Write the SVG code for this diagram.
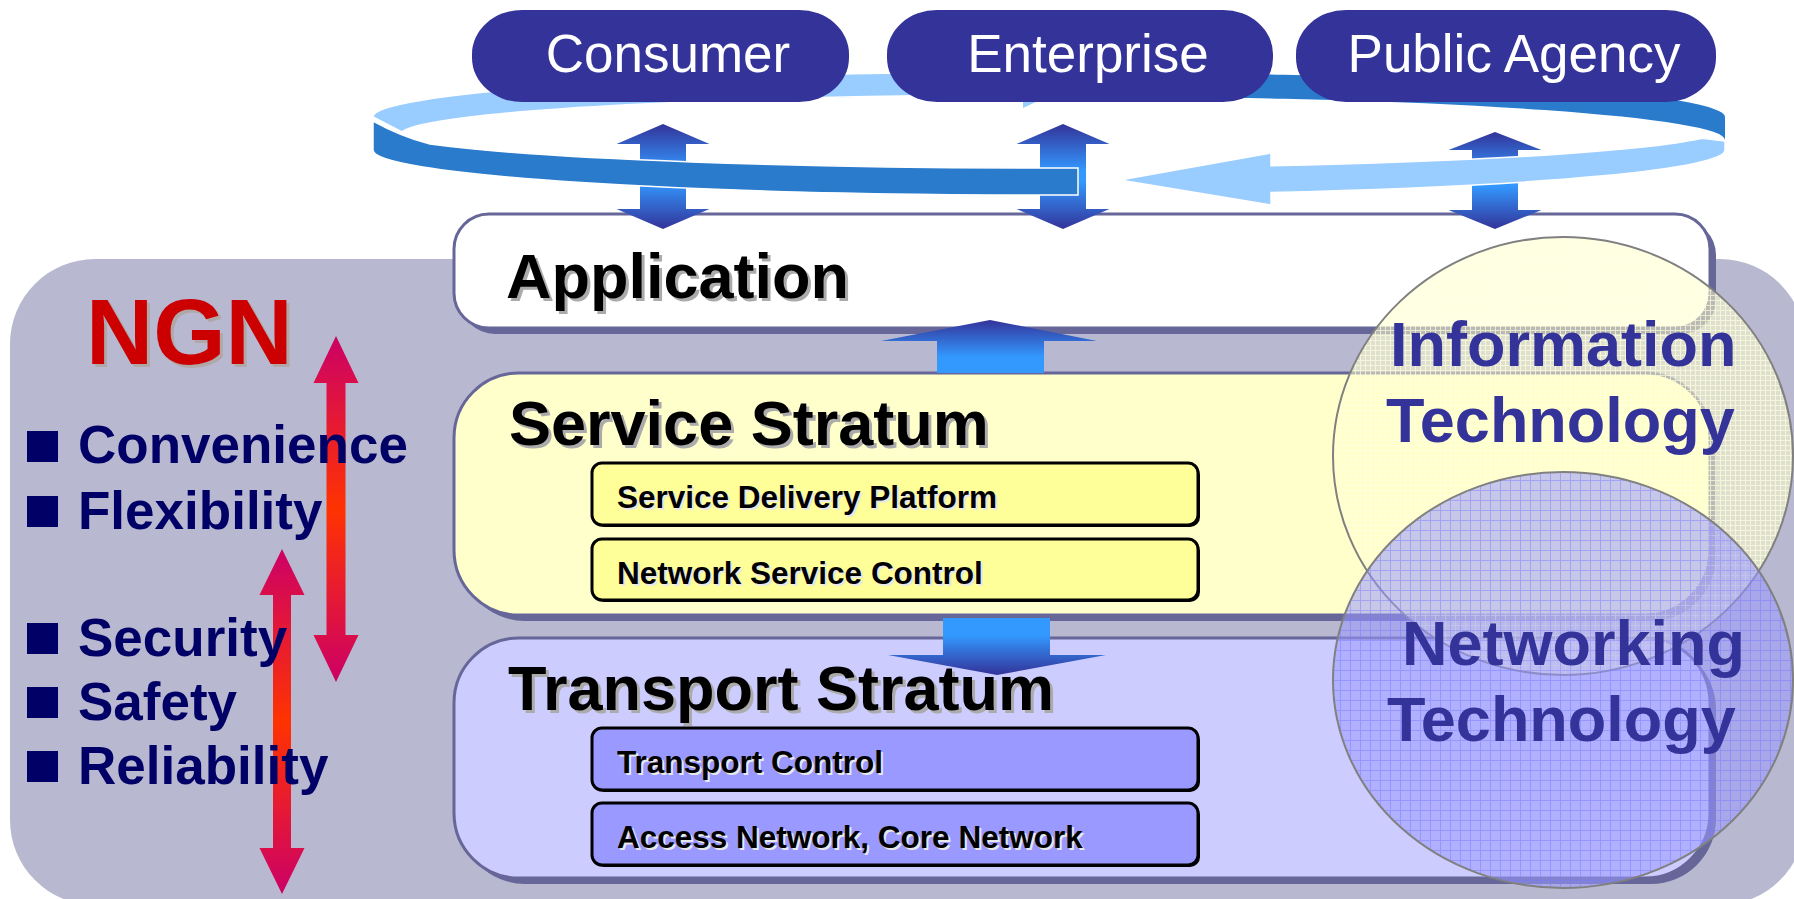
<svg xmlns="http://www.w3.org/2000/svg" width="1794" height="899" viewBox="0 0 1794 899">
<defs>
<style>
.box{stroke:#666699;stroke-width:3}
.shadow{fill:#666699}
.h{font-family:"Liberation Sans",Arial,sans-serif;font-weight:bold;font-size:63px;fill:#000}
.hs{fill:#ABABAB}
.pt{font-family:"Liberation Sans",Arial,sans-serif;font-size:53px;fill:#fff;text-anchor:middle}
.bul{font-family:"Liberation Sans",Arial,sans-serif;font-weight:bold;font-size:53px;fill:#000066}
.sub{font-family:"Liberation Sans",Arial,sans-serif;font-weight:bold;font-size:31.5px;fill:#000}
.subs{fill:#E8E8E8}
.subbox{stroke:#000;stroke-width:3}
.tech{font-family:"Liberation Sans",Arial,sans-serif;font-weight:bold;font-size:63px;fill:#333399}
.pill{fill:#333399}
.band{stroke:#fff;stroke-width:1.5}
</style>
<linearGradient id="gDouble" x1="0" y1="0" x2="0" y2="1">
<stop offset="0" stop-color="#333399"/>
<stop offset="0.45" stop-color="#3399FF"/>
<stop offset="0.55" stop-color="#3399FF"/>
<stop offset="1" stop-color="#333399"/>
</linearGradient>
<linearGradient id="gUp" x1="0" y1="0" x2="0" y2="1">
<stop offset="0" stop-color="#333399"/>
<stop offset="0.7" stop-color="#3399FF"/>
<stop offset="1" stop-color="#3399FF"/>
</linearGradient>
<linearGradient id="gDown" x1="0" y1="0" x2="0" y2="1">
<stop offset="0" stop-color="#3399FF"/>
<stop offset="0.3" stop-color="#3399FF"/>
<stop offset="1" stop-color="#333399"/>
</linearGradient>
<linearGradient id="gRed" x1="0" y1="0" x2="0" y2="1">
<stop offset="0" stop-color="#CC0066"/>
<stop offset="0.5" stop-color="#FF3300"/>
<stop offset="1" stop-color="#CC0066"/>
</linearGradient>
<pattern id="gridY" width="5" height="5" patternUnits="userSpaceOnUse">
<path d="M0,0.5H5M0.5,0V5" stroke="#FFFFE0" stroke-width="1" fill="none"/>
</pattern>
<pattern id="gridB" width="10" height="10" patternUnits="userSpaceOnUse">
<path d="M0,0.5H10M0.5,0V10" stroke="#7777FF" stroke-width="1" fill="none"/>
</pattern>
</defs>

<rect id="background" x="10" y="259" width="1795" height="646" rx="85" ry="85" fill="#B8B8D0"/>

<g id="application">
<rect class="shadow" x="460" y="220" width="1256" height="114" rx="35"/>
<rect class="box" x="454" y="214" width="1256" height="114" rx="35" fill="#FFFFFF"/>
<text class="h hs" x="509" y="301">Application</text>
<text class="h" x="506" y="298">Application</text>
</g>

<g id="service-stratum">
<rect class="shadow" x="460" y="379" width="1256" height="242" rx="65"/>
<rect class="box" x="454" y="373" width="1256" height="242" rx="65" fill="#FFFFCC"/>
<text class="h hs" x="512" y="448">Service Stratum</text>
<text class="h" x="509" y="445">Service Stratum</text>
</g>

<g id="service-delivery-platform">
<rect x="594" y="465" width="606" height="62" rx="10" fill="#000"/>
<rect class="subbox" x="592" y="463" width="606" height="62" rx="10" fill="#FFFF99"/>
<text class="sub subs" x="619" y="510">Service Delivery Platform</text>
<text class="sub" x="617" y="508">Service Delivery Platform</text>
</g>

<g id="network-service-control">
<rect x="594" y="541" width="606" height="61" rx="10" fill="#000"/>
<rect class="subbox" x="592" y="539" width="606" height="61" rx="10" fill="#FFFF99"/>
<text class="sub subs" x="619" y="586">Network Service Control</text>
<text class="sub" x="617" y="584">Network Service Control</text>
</g>

<g id="transport-stratum">
<rect class="shadow" x="460" y="644" width="1256" height="240" rx="65"/>
<rect class="box" x="454" y="638" width="1256" height="240" rx="65" fill="#CCCCFF"/>
</g>

<g id="transport-control">
<rect x="594" y="730" width="606" height="62" rx="10" fill="#000"/>
<rect class="subbox" x="592" y="728" width="606" height="62" rx="10" fill="#9999FF"/>
<text class="sub subs" x="619" y="775">Transport Control</text>
<text class="sub" x="617" y="773">Transport Control</text>
</g>

<g id="access-core-network">
<rect x="594" y="805" width="606" height="62" rx="10" fill="#000"/>
<rect class="subbox" x="592" y="803" width="606" height="62" rx="10" fill="#9999FF"/>
<text class="sub subs" x="619" y="850">Access Network, Core Network</text>
<text class="sub" x="617" y="848">Access Network, Core Network</text>
</g>

<g id="ring-back">
<path class="band" d="M373,117 A676,45 0 0 1 1100,72.13 L1100,95.07 A660,40 0 0 0 402,131.9 Z" fill="#99CCFF"/>
<path d="M1100,72.13 A676,45 0 0 1 1725,117 L1725,140 A676,44 0 0 0 1100,96.13 Z" fill="#2A7BCB"/>
<polygon points="1023,101 1038,101 1023,108" fill="#99CCFF"/>
</g>

<g id="consumer">
<rect class="pill" x="472" y="10" width="377" height="92" rx="50" ry="44"/>
<text class="pt" x="668" y="72">Consumer</text>
</g>
<g id="enterprise">
<rect class="pill" x="887" y="10" width="386" height="92" rx="50" ry="44"/>
<text class="pt" x="1088" y="72">Enterprise</text>
</g>
<g id="public-agency">
<rect class="pill" x="1296" y="10" width="420" height="92" rx="50" ry="44"/>
<text class="pt" x="1514" y="72">Public Agency</text>
</g>

<g id="connectors">
<path d="M663,124 L709.5,144 L686,144 L686,209 L709.5,209 L663,229 L616.5,209 L640,209 L640,144 L616.5,144 Z" fill="url(#gDouble)"/>
<path d="M1063,124 L1109.5,144 L1086,144 L1086,209 L1109.5,209 L1063,229 L1016.5,209 L1040,209 L1040,144 L1016.5,144 Z" fill="url(#gDouble)"/>
<path d="M1495,132 L1541.5,150 L1518,150 L1518,210 L1541.5,210 L1495,229 L1448.5,210 L1472,210 L1472,150 L1448.5,150 Z" fill="url(#gDouble)"/>
<path d="M990,320 L1097,341 L1044,341 L1044,373 L937,373 L937,341 L881,341 Z" fill="url(#gUp)"/>
<path d="M943,618 L1050,618 L1050,655 L1106,655 L997,675 L888,655 L943,655 Z" fill="url(#gDown)"/>
<path d="M336,336 L358.5,383 L345.5,383 L345.5,635 L358.5,635 L336,682 L313.5,635 L326.5,635 L326.5,383 L313.5,383 Z" fill="url(#gRed)"/>
<path d="M282,549 L304.5,595 L291,595 L291,848 L304.5,848 L282,894 L259.5,848 L273,848 L273,595 L259.5,595 Z" fill="url(#gRed)"/>
</g>

<g id="ring-front">
<path class="band" d="M373,121 L373,150 A676,45 0 0 0 1078,194.96 L1078,167.96 A676,40 0 0 1 430,144.1 Q400,136 373,121 Z" fill="#2A7BCB"/>
<path class="band" d="M1271,165.78 L1271,153 L1120,180 L1271,205 L1271,192.5 A676,45 0 0 0 1725,150 L1725,141 L1702,138.35 A676,40 0 0 1 1271,165.78 Z" fill="#99CCFF"/>
</g>

<g id="transport-heading">
<text class="h hs" x="511" y="713">Transport Stratum</text>
<text class="h" x="508" y="710">Transport Stratum</text>
</g>

<g id="information-technology">
<ellipse cx="1563" cy="456" rx="230" ry="219" fill="#FFFFCC" fill-opacity="0.55"/>
<ellipse cx="1563" cy="456" rx="230" ry="219" fill="url(#gridY)" opacity="0.7"/>
<ellipse cx="1563" cy="456" rx="230" ry="219" fill="none" stroke="#808080" stroke-width="2"/>
</g>

<g id="networking-technology">
<ellipse cx="1563" cy="680" rx="230" ry="208" fill="#9999FF" fill-opacity="0.55"/>
<ellipse cx="1563" cy="680" rx="230" ry="208" fill="url(#gridB)" opacity="0.45"/>
<ellipse cx="1563" cy="680" rx="230" ry="208" fill="none" stroke="#808080" stroke-width="2"/>
</g>

<g id="tech-labels">
<text class="tech" x="1390" y="366">Information</text>
<text class="tech" x="1386" y="442">Technology</text>
<text class="tech" x="1402" y="665">Networking</text>
<text class="tech" x="1387" y="741">Technology</text>
</g>

<g id="ngn">
<text x="89" y="367" font-family="Liberation Sans, Arial, sans-serif" font-weight="bold" font-size="93" fill="#B0A8A8">NGN</text>
<text x="86" y="364" font-family="Liberation Sans, Arial, sans-serif" font-weight="bold" font-size="93" fill="#CC0000">NGN</text>
</g>

<g id="qualities">
<rect x="27" y="431" width="31" height="31" fill="#000066"/>
<text class="bul" x="78" y="463">Convenience</text>
<rect x="27" y="496" width="31" height="31" fill="#000066"/>
<text class="bul" x="78" y="529">Flexibility</text>
<rect x="27" y="623" width="31" height="31" fill="#000066"/>
<text class="bul" x="78" y="656">Security</text>
<rect x="27" y="687" width="31" height="31" fill="#000066"/>
<text class="bul" x="78" y="720">Safety</text>
<rect x="27" y="751" width="31" height="31" fill="#000066"/>
<text class="bul" x="78" y="784">Reliability</text>
</g>
</svg>
